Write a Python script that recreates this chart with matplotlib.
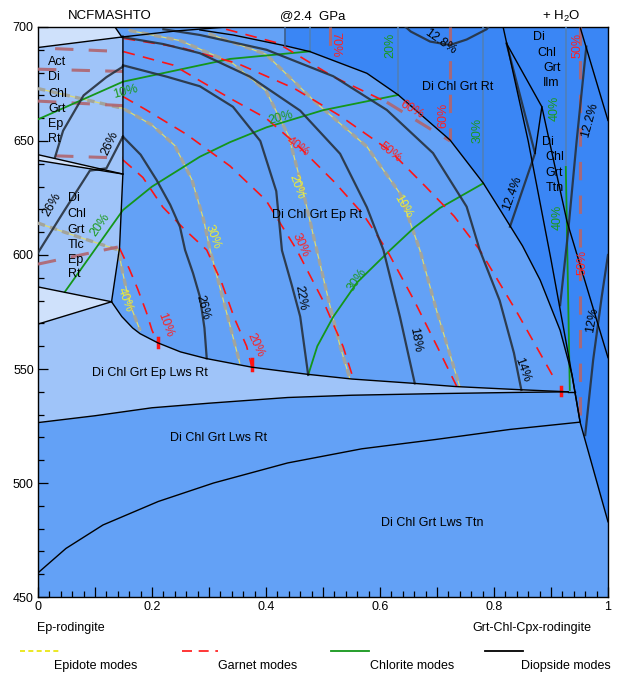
import matplotlib.pyplot as plt
from matplotlib.lines import Line2D
from matplotlib.ticker import MultipleLocator, FuncFormatter

plt.rcParams['font.family'] = ['Liberation Sans', 'DejaVu Sans']
plt.rcParams['mathtext.default'] = 'regular'

# field colours
mid_blue = '#63a1f6'
dark_blue = '#3a86f5'
light_blue = '#9fc4f9'
pale_blue = '#cfe1fb'

# ---------------- field boundaries (x = bulk composition, T in C) ----------------
# lower limit of Di Chl Grt Ep Rt
ep_out_x = [0.129, 0.147, 0.166, 0.179, 0.21, 0.25, 0.295, 0.375, 0.472, 0.551, 0.66, 0.733, 0.847, 0.93]
ep_out_T = [579.5, 573, 568, 565.5, 561.5, 557.5, 554.6, 550.8, 547.7, 545.6, 543.7, 542.3, 540.9, 540]
# Di Chl Grt Ep Lws Rt / Di Chl Grt Lws Rt
lws_ep_x = [0, 0.1, 0.2, 0.3, 0.438, 0.55, 0.698, 0.83, 0.93]
lws_ep_T = [526.5, 529.5, 533, 535, 537.5, 538.5, 539.2, 539.7, 540]
# Di Chl Grt Lws Rt / Di Chl Grt Lws Ttn
rt_ttn_x = [0, 0.049, 0.114, 0.211, 0.308, 0.438, 0.568, 0.698, 0.828, 0.951]
rt_ttn_T = [460.6, 471.3, 481.6, 491.9, 500, 508.8, 515, 519.1, 523.5, 526.7]
# high-T limit of the Ep field
arc_x = [0.284, 0.342, 0.433, 0.477, 0.577, 0.632, 0.723, 0.781, 0.811, 0.85, 0.881, 0.916, 0.937, 0.942]
arc_T = [698.7, 696.5, 691.8, 689.2, 679.7, 670.2, 650.4, 631.6, 619.7, 604, 589, 567, 547.4, 540]
# right strip
strip_x = [0.942, 0.951, 1.0]
strip_T = [540, 526.7, 483]
# left side fields
main_left_x = [0.129, 0.143, 0.149, 0.149]
main_left_T = [579.5, 603, 636, 696]
top_x = [0.0, 0.147, 0.24, 0.331]
top_T = [691, 695.6, 698.2, 700]
corner_x = [0.135, 0.147]
corner_T = [700, 695.6]
act_low1_x = [0.0, 0.149]
act_low1_T = [644, 635.5]
act_low2_x = [0.0, 0.149]
act_low2_T = [641.5, 635.5]
wedge_up_x = [0.0, 0.129]
wedge_up_T = [586, 579.5]
wedge_low_x = [0.0, 0.129]
wedge_low_T = [569.7, 579.5]
dark_edge_x = [0.433, 0.433]
dark_edge_T = [691.8, 700]
# lines in the high-T part on the right
rA_x = [0.816, 0.86, 0.9, 0.93, 0.951]
rA_T = [700, 650, 598, 557, 527]
rB_x = [0.822, 0.872, 0.828]
rB_T = [692.8, 644.6, 612.4]
rC_x = [0.822, 0.884, 0.872]
rC_T = [692.8, 665, 644.6]
rD_x = [0.951, 1.0]
rD_T = [700, 659]
rE_x = [0.962, 0.945, 0.93, 0.916]
rE_T = [691.4, 650, 610, 578]
rF_x = [0.884, 0.928, 1.0]
rF_T = [665, 614.8, 555]
rG_x = [1.0, 0.989, 0.974, 0.96]
rG_T = [600, 581.7, 554, 521]
c128_x = [0.645, 0.654, 0.688, 0.723, 0.752, 0.787, 0.79]
c128_T = [700, 698, 693.6, 692.1, 694.5, 699, 700]

# ---------------- diopside modes ----------------
dio26_x = [0.149, 0.18, 0.208, 0.232, 0.249, 0.258, 0.272, 0.284, 0.292, 0.296]
dio26_T = [651.9, 644, 632.9, 622, 612.4, 602.2, 592, 581.7, 568, 554.7]
dio22_x = [0.149, 0.226, 0.284, 0.342, 0.39, 0.418, 0.428, 0.445, 0.46, 0.474]
dio22_T = [683.2, 678.2, 674, 665, 650, 628, 602, 587, 573, 547.4]
dio18_x = [0.147, 0.22, 0.284, 0.372, 0.46, 0.53, 0.577, 0.606, 0.635, 0.661]
dio18_T = [695.6, 692.5, 688.5, 678.2, 663.3, 644.4, 620.9, 602.2, 572.9, 543.7]
dio14_x = [0.22, 0.284, 0.401, 0.518, 0.612, 0.693, 0.752, 0.775, 0.81, 0.835, 0.848]
dio14_T = [699, 696.5, 690, 678.4, 663.6, 644.7, 621.2, 602.2, 580, 557, 540.8]
dio_act_x = [0.03, 0.044, 0.08, 0.12, 0.149]
dio_act_T = [643, 654.5, 670, 678, 682.6]
dio_tlc_x = [0.0, 0.045, 0.091, 0.12, 0.149]
dio_tlc_T = [601, 619, 637, 638, 652]

# ---------------- chlorite modes ----------------
chl10_x = [0.0, 0.149, 0.284, 0.337, 0.477]
chl10_T = [659.5, 676, 683.2, 686, 689.3]
chl20_x = [0.047, 0.149, 0.2, 0.284, 0.337, 0.401, 0.5, 0.632]
chl20_T = [583.8, 619.7, 630, 643.1, 649.5, 656, 663.5, 670.2]
chl30_x = [0.474, 0.49, 0.518, 0.56, 0.618, 0.66, 0.705, 0.781]
chl30_T = [547.4, 560, 572.9, 588, 602.2, 612, 620.6, 631.4]
chl40_x = [0.926, 0.933]
chl40_T = [638.6, 540.8]
# chlorite modes above the Ep field (vertical)
chl_v_x = [0.477, 0.632, 0.781, 0.926]
chl_v_bottom = [689.3, 670.2, 631.4, 638.6]

# ---------------- epidote modes ----------------
ep40_x = [0.0, 0.07, 0.141, 0.148, 0.155, 0.165, 0.179]
ep40_T = [614, 608, 602.2, 593, 585, 576, 567]
ep30_x = [0.0, 0.149, 0.2, 0.24, 0.27, 0.29, 0.302, 0.32, 0.338, 0.354]
ep30_T = [673, 664.3, 657, 648, 633, 616, 602.2, 585, 568, 552.6]
ep20_x = [0.16, 0.25, 0.342, 0.4, 0.44, 0.465, 0.489, 0.51, 0.53, 0.547]
ep20_T = [698.5, 694, 684, 672, 652, 628, 602.2, 580, 560, 545.9]
ep10_x = [0.3, 0.4, 0.489, 0.577, 0.635, 0.67, 0.7, 0.74]
ep10_T = [697, 688, 666.5, 647.5, 627, 602.2, 575, 542.2]

# ---------------- garnet modes ----------------
grt10_x = [0.143, 0.16, 0.175, 0.19, 0.2, 0.211]
grt10_T = [603, 594, 585, 575, 567, 561]
grt20_x = [0.149, 0.184, 0.219, 0.258, 0.296, 0.322, 0.345, 0.366, 0.375]
grt20_T = [641.7, 634, 621, 611, 602.2, 588, 572, 560, 551]
grt30_x = [0.149, 0.19, 0.26, 0.337, 0.4, 0.454, 0.5, 0.535, 0.553]
grt30_T = [669.5, 663.6, 653, 639, 624, 602.2, 580, 560, 545.9]
grt40_x = [0.15, 0.237, 0.337, 0.4, 0.456, 0.52, 0.57, 0.612, 0.66, 0.7, 0.735]
grt40_T = [689.2, 683.3, 668.7, 660, 648, 632, 618, 602.2, 580, 560, 542.2]
grt50_x = [0.15, 0.25, 0.35, 0.45, 0.53, 0.618, 0.68, 0.73, 0.775, 0.84, 0.904]
grt50_T = [695, 691, 684, 673, 661, 645.6, 630, 617, 602.2, 575, 546.6]
grt60_x = [0.33, 0.42, 0.518, 0.612]
grt60_T = [699, 693, 678.2, 667]
# short garnet pieces at the Ep-out line
grt_tick_x = [0.211, 0.375, 0.917]
grt_tick_lo = [559.5, 549.5, 538.5]
grt_tick_hi = [563.5, 554.5, 542]
# garnet modes outside the Ep Rt field (muted)
grt_v_x = [0.512, 0.723, 0.951]
grt_v_bottom = [688.5, 650.4, 527]
grt_mut_x = [[0.03, 0.149], [0.0, 0.149], [0.0, 0.149], [0.03, 0.149], [0.0, 0.14],
             [0.612, 0.69, 0.723]]
grt_mut_T = [[690.5, 689.2], [681.5, 680.5], [667.5, 665.5], [643.5, 642.5], [596, 603.5],
             [667, 655, 650]]

# ---------------- labels ----------------
dio_lab = ['26%', '22%', '18%', '14%', '26%', '26%', '12.8%', '12.4%', '12.2%', '12%']
dio_lab_x = [0.289, 0.46, 0.661, 0.849, 0.025, 0.126, 0.705, 0.833, 0.968, 0.972]
dio_lab_T = [576.8, 581.1, 562.7, 549.6, 621.9, 649.1, 693.4, 627.2, 659.2, 571.5]
dio_lab_rot = [-75, -80, -80, -70, 60, 65, -35, 70, 75, 80]

grt_lab = ['10%', '20%', '30%', '40%', '50%', '60%', '70%', '60%', '50%', '50%']
grt_lab_x = [0.223, 0.381, 0.46, 0.456, 0.618, 0.656, 0.521, 0.711, 0.946, 0.956]
grt_lab_T = [569.3, 560.5, 604.4, 647.4, 645.2, 663.6, 692.1, 661.4, 692.1, 596.9]
grt_lab_rot = [-70, -65, -65, -35, -38, -30, -90, 90, 90, 90]

chl_lab = ['10%', '20%', '20%', '30%', '20%', '30%', '40%', '40%']
chl_lab_x = [0.153, 0.109, 0.425, 0.56, 0.618, 0.772, 0.907, 0.912]
chl_lab_T = [671.5, 613.2, 660.1, 589, 692.1, 654.8, 664.5, 616.7]
chl_lab_rot = [15, 55, 15, 55, 90, 90, 90, 90]

ep_lab = ['40%', '30%', '20%', '10%']
ep_lab_x = [0.153, 0.307, 0.454, 0.64]
ep_lab_T = [580.3, 607.9, 629.8, 621.1]
ep_lab_rot = [-70, -70, -70, -60]

field_lab = ['Di Chl Grt Ep Rt', 'Di Chl Grt Rt', 'Di Chl Grt Ep Lws Rt',
             'Di Chl Grt Lws Rt', 'Di Chl Grt Lws Ttn']
field_lab_x = [0.49, 0.737, 0.196, 0.316, 0.691]
field_lab_T = [617.5, 673.7, 548.2, 519.7, 482.5]

stack_lab = [['Act', 'Di', 'Chl', 'Grt', 'Ep', 'Rt'],
             ['Di', 'Chl', 'Grt', 'Tlc', 'Ep', 'Rt'],
             ['Di', 'Chl', 'Grt', 'Ilm'],
             ['Di', 'Chl', 'Grt', 'Ttn']]
stack_x = [[0.018] * 6, [0.052] * 6, [0.868, 0.876, 0.886, 0.886], [0.885, 0.89, 0.89, 0.89]]
stack_T = [[684.5, 678, 670.5, 664, 657.5, 651],
           [625, 618, 611, 604.5, 598, 591.5],
           [695.5, 688.5, 682, 675.5],
           [649.5, 643, 636, 629.5]]

FS = 9


def boundary(ax, x, T):
    ax.plot(x, T, color='black', lw=1.0, zorder=6)


def epidote(ax, x, T):
    ax.plot(x, T, color='#dedb70', lw=0.9, zorder=3)
    ax.plot(x, T, color='#a2a49c', lw=2.4, dashes=(2.2, 1.6), zorder=3)


def garnet(ax, x, T):
    ax.plot(x, T, color='#ff1414', lw=1.2, dashes=(7, 5), zorder=4)


def garnet_muted(ax, x, T):
    ax.plot(x, T, color='#b0656f', lw=2.2, dashes=(6, 5), alpha=0.9, zorder=3)


def chlorite(ax, x, T):
    ax.plot(x, T, color='#14961a', lw=1.3, zorder=4)


def diopside(ax, x, T):
    ax.plot(x, T, color='#27313d', lw=1.6, alpha=0.9, zorder=5)


def labels(ax, txt, xs, ys, rots, color):
    for t, x, y, r in zip(txt, xs, ys, rots):
        ax.text(x, y, t, color=color, fontsize=FS, rotation=r,
                rotation_mode='anchor', ha='center', va='center', zorder=8)


fig = plt.figure(figsize=(6.18, 6.73), dpi=100)
ax = fig.add_axes([0.0615, 0.1129, 0.9223, 0.847])
ax.set_xlim(0, 1)
ax.set_ylim(450, 700)
ax.set_facecolor(mid_blue)

# ---- fields ----
dark_x = [0.433] + arc_x[2:] + strip_x[1:] + [1.0, 0.433]
dark_T = [691.8] + arc_T[2:] + strip_T[1:] + [700, 700]
ax.fill(dark_x, dark_T, color=dark_blue, lw=0, zorder=1)

lws_x = [0.0, 0.0] + ep_out_x + lws_ep_x[::-1]
lws_T = [526.5, 569.7] + ep_out_T + lws_ep_T[::-1]
ax.fill(lws_x, lws_T, color=light_blue, lw=0, zorder=1)

tlc_x = [0.0, 0.0, 0.149] + main_left_x[:3][::-1]
tlc_T = [586, 641.5, 635.5] + main_left_T[:3][::-1]
ax.fill(tlc_x, tlc_T, color=light_blue, lw=0, zorder=1)

act_x = [0.0, 0.0, 0.147, 0.149, 0.149]
act_T = [644, 691, 695.6, 696, 635.5]
ax.fill(act_x, act_T, color=light_blue, lw=0, zorder=1)

ax.fill([0.0, 0.0, 0.149], [641.5, 644, 635.5], color=pale_blue, lw=0, zorder=1)
ax.fill([0.0, 0.129, 0.0], [569.7, 579.5, 586], color=pale_blue, lw=0, zorder=1)
ax.fill([0.0, 0.0, 0.135, 0.147], [691, 700, 700, 695.6], color=pale_blue, lw=0, zorder=1)

# ---- chlorite modes ----
for cx, ct in [(chl10_x, chl10_T), (chl20_x, chl20_T), (chl30_x, chl30_T), (chl40_x, chl40_T)]:
    chlorite(ax, cx, ct)
for vx, vb in zip(chl_v_x, chl_v_bottom):
    ax.plot([vx, vx], [vb, 700], color='#4f7fb8', lw=1.2, zorder=3)

# ---- epidote modes ----
for ex, et in [(ep40_x, ep40_T), (ep30_x, ep30_T), (ep20_x, ep20_T), (ep10_x, ep10_T)]:
    epidote(ax, ex, et)

# ---- garnet modes ----
for gx, gt in [(grt10_x, grt10_T), (grt20_x, grt20_T), (grt30_x, grt30_T),
               (grt40_x, grt40_T), (grt50_x, grt50_T), (grt60_x, grt60_T)]:
    garnet(ax, gx, gt)
for gx, lo, hi in zip(grt_tick_x, grt_tick_lo, grt_tick_hi):
    ax.plot([gx, gx], [lo, hi], color='#ff1414', lw=2.5, zorder=4)
for vx, vb in zip(grt_v_x, grt_v_bottom):
    garnet_muted(ax, [vx, vx], [700, vb])
for gx, gt in zip(grt_mut_x, grt_mut_T):
    garnet_muted(ax, gx, gt)

# ---- diopside modes ----
for dx, dt in [(dio26_x, dio26_T), (dio22_x, dio22_T), (dio18_x, dio18_T), (dio14_x, dio14_T),
               (dio_act_x, dio_act_T), (dio_tlc_x, dio_tlc_T), (c128_x, c128_T),
               (rB_x, rB_T), (rE_x, rE_T), (rG_x, rG_T)]:
    diopside(ax, dx, dt)

# ---- field boundaries ----
for bx, bt in [(ep_out_x, ep_out_T), (lws_ep_x, lws_ep_T), (rt_ttn_x, rt_ttn_T),
               (arc_x, arc_T), (strip_x, strip_T), (main_left_x, main_left_T),
               (top_x, top_T), (corner_x, corner_T), (act_low1_x, act_low1_T),
               (act_low2_x, act_low2_T), (wedge_up_x, wedge_up_T), (wedge_low_x, wedge_low_T),
               (rA_x, rA_T), (rC_x, rC_T), (rD_x, rD_T), (rF_x, rF_T)]:
    boundary(ax, bx, bt)
ax.plot(dark_edge_x, dark_edge_T, color='#3f5f88', lw=1.2, zorder=6)
ax.plot([ep_out_x[-1], arc_x[-1]], [ep_out_T[-1], arc_T[-1]], color='black', lw=1.0, zorder=6)

# ---- labels ----
labels(ax, dio_lab, dio_lab_x, dio_lab_T, dio_lab_rot, 'black')
labels(ax, grt_lab, grt_lab_x, grt_lab_T, grt_lab_rot, '#ff2020')
labels(ax, chl_lab, chl_lab_x, chl_lab_T, chl_lab_rot, '#1a9a1a')
labels(ax, ep_lab, ep_lab_x, ep_lab_T, ep_lab_rot, '#f0ee30')
for t, x, y in zip(field_lab, field_lab_x, field_lab_T):
    ax.text(x, y, t, fontsize=FS, ha='center', va='center', zorder=8)
for words, xs, ys in zip(stack_lab, stack_x, stack_T):
    for w, x, y in zip(words, xs, ys):
        ax.text(x, y, w, fontsize=FS, ha='left', va='center', zorder=8)

# ---- axes ----
ax.xaxis.set_major_locator(MultipleLocator(0.1))
ax.xaxis.set_minor_locator(MultipleLocator(0.02))
ax.xaxis.set_major_formatter(FuncFormatter(
    lambda v, p: ('%g' % round(v, 1)) if round(v * 10) % 2 == 0 else ''))
ax.yaxis.set_major_locator(MultipleLocator(50))
ax.yaxis.set_minor_locator(MultipleLocator(10))
ax.tick_params(which='both', direction='in', top=False, right=False, labelsize=FS, pad=3)
ax.tick_params(which='major', length=7, width=0.9)
ax.tick_params(which='minor', length=4, width=0.9)
for s in ax.spines.values():
    s.set_linewidth(1.0)

# ---- texts around the plot ----
W, H = 618.0, 673.0
fig.text(110 / W, 1 - 16 / H, 'NCFMASHTO', fontsize=9.5, ha='center', va='center')
fig.text(313 / W, 1 - 16 / H, '@2.4  GPa', fontsize=9.5, ha='center', va='center')
fig.text(561 / W, 1 - 16 / H, '+ H$_2$O', fontsize=9.5, ha='center', va='center')
fig.text(37 / W, 1 - 628 / H, 'Ep-rodingite', fontsize=FS, ha='left', va='center')
fig.text(591 / W, 1 - 628 / H, 'Grt-Chl-Cpx-rodingite', fontsize=FS, ha='right', va='center')

leg_styles = [dict(color='#e8e400', lw=1.2, dashes=(3, 2)),
              dict(color='#ff1414', lw=1.2, dashes=(6, 4)),
              dict(color='#14961a', lw=1.3),
              dict(color='black', lw=1.3)]
leg_x0 = [20, 182, 331, 485]
leg_x1 = [60, 218, 369, 523]
leg_txt = ['Epidote modes', 'Garnet modes', 'Chlorite modes', 'Diopside modes']
leg_tx = [96, 258, 412, 566]
for st, a, b, t, tx in zip(leg_styles, leg_x0, leg_x1, leg_txt, leg_tx):
    fig.add_artist(Line2D([a / W, b / W], [1 - 651 / H, 1 - 651 / H],
                          transform=fig.transFigure, **st))
    fig.text(tx / W, 1 - 666 / H, t, fontsize=FS, ha='center', va='center')

fig.savefig('out.png', dpi=100)
